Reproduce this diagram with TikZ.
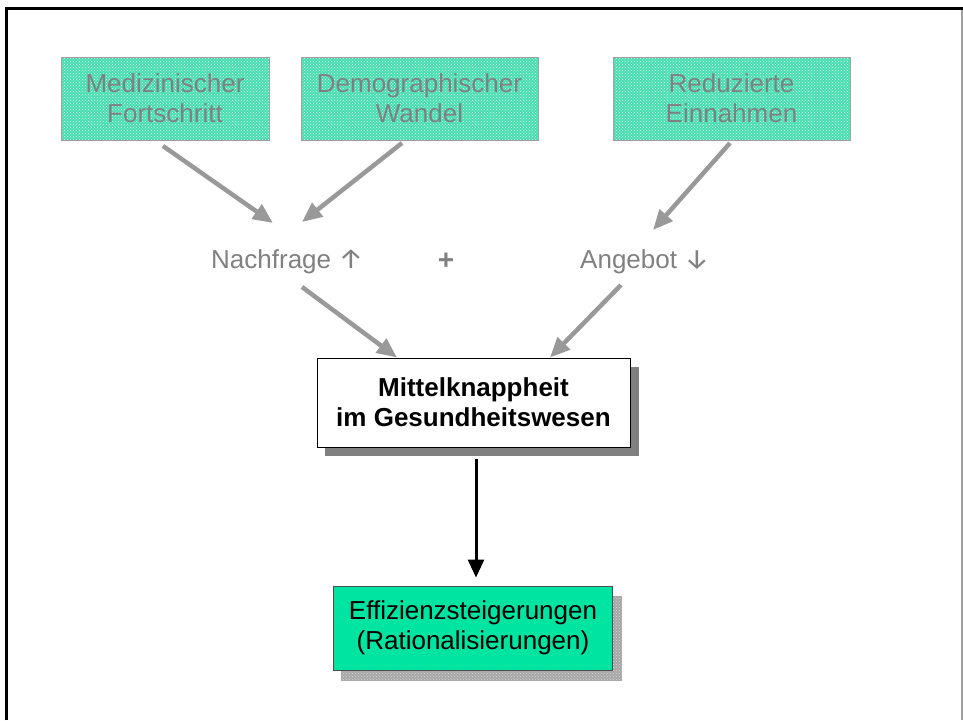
\documentclass[tikz,border=0pt]{standalone}
\usepackage{fontspec}
\setmainfont{Liberation Sans}
\newfontfamily\symbfont{Fira Sans}
\usetikzlibrary{arrows.meta,calc,patterns}
\definecolor{txtgray}{RGB}{128,128,128}
\definecolor{arrgray}{RGB}{153,153,153}
\definecolor{edgegray}{RGB}{160,160,160}
\definecolor{mint}{RGB}{70,222,175}
\definecolor{effgreen}{RGB}{0,228,162}
\newcommand{\trendsym}[1]{{\symbfont\fontsize{28}{30}\selectfont #1}}
\tikzset{
  cause/.style={draw=edgegray, line width=1pt,
    preaction={fill=mint}, pattern=crosshatch dots, pattern color=white!85!mint,
    minimum height=83pt, inner sep=0pt, align=center, text=txtgray,
    font=\fontsize{26}{30}\selectfont},
  factor/.style={inner sep=0pt, text=txtgray, font=\fontsize{26}{30}\selectfont},
  grayarrow/.style={draw=arrgray, line width=4.5pt,
    -{Triangle[length=20pt,width=17pt]}},
  blackarrow/.style={draw=black, line width=3pt,
    -{Triangle[length=18pt,width=16pt]}},
  centralbox/.style={draw=black, line width=1pt, fill=white,
    minimum width=313pt, minimum height=89pt, inner sep=0pt, align=center,
    font=\bfseries\fontsize{26}{30}\selectfont},
  resultbox/.style={draw=black!70, line width=1pt, fill=effgreen,
    minimum width=279pt, minimum height=84pt, inner sep=0pt, align=center,
    font=\fontsize{26}{30}\selectfont}
}
\begin{document}
\begin{tikzpicture}[x=1pt,y=-1pt]
  \useasboundingbox (0,0) rectangle (963,720);
  % page frame
  \draw[edgegray, line width=1.2pt] (962,8) -- (962,720);
  \draw[black, line width=3pt] (6,720) -- (6,8) -- (962.5,8);

  % causes
  \node[cause, minimum width=208pt] (med) at (165,98.5) {Medizinischer\\Fortschritt};
  \node[cause, minimum width=237pt] (demo) at (419.5,98.5) {Demographischer\\Wandel};
  \node[cause, minimum width=237pt] (red) at (731.5,98.5) {Reduzierte\\Einnahmen};

  % demand and supply
  \node[factor, anchor=base west] (nach) at (211,268) {Nachfrage \trendsym{↑}};
  \node[factor, font=\bfseries\fontsize{28}{30}\selectfont] (plus) at (446,261) {+};
  \node[factor, anchor=base west] (ang) at (580,268) {Angebot \trendsym{↓}};

  % central box with shadow
  \fill[txtgray] (325,367) rectangle (639,456);
  \node[centralbox] (mittel) at (473.5,402.5) {Mittelknappheit\\im Gesundheitswesen};

  % result box with textured shadow
  \path[preaction={fill=black!35}, pattern=crosshatch dots, pattern color=white!85!black]
    (341,596) rectangle (622,681);
  \node[resultbox] (eff) at (473,628) {Effizienzsteigerungen\\(Rationalisierungen)};

  % connectors
  \draw[grayarrow] ($(med.center)+(-2,47.5)$) -- ($(nach.base west)+(62,-45)$);
  \draw[grayarrow] ($(demo.center)+(-17.5,44.5)$) -- ($(nach.base west)+(91,-46)$);
  \draw[grayarrow] ($(red.center)+(-1.5,44.5)$) -- ($(ang.base west)+(73,-38)$);
  \draw[grayarrow] ($(nach.base west)+(91,19)$) -- ($(mittel.north)+(-76.5,0)$);
  \draw[grayarrow] ($(ang.base west)+(41,17)$) -- ($(mittel.north)+(76.5,0)$);
  \draw[blackarrow] ($(mittel.south)+(2.5,11)$) -- ($(eff.north)+(3,-8)$);
\end{tikzpicture}
\end{document}
